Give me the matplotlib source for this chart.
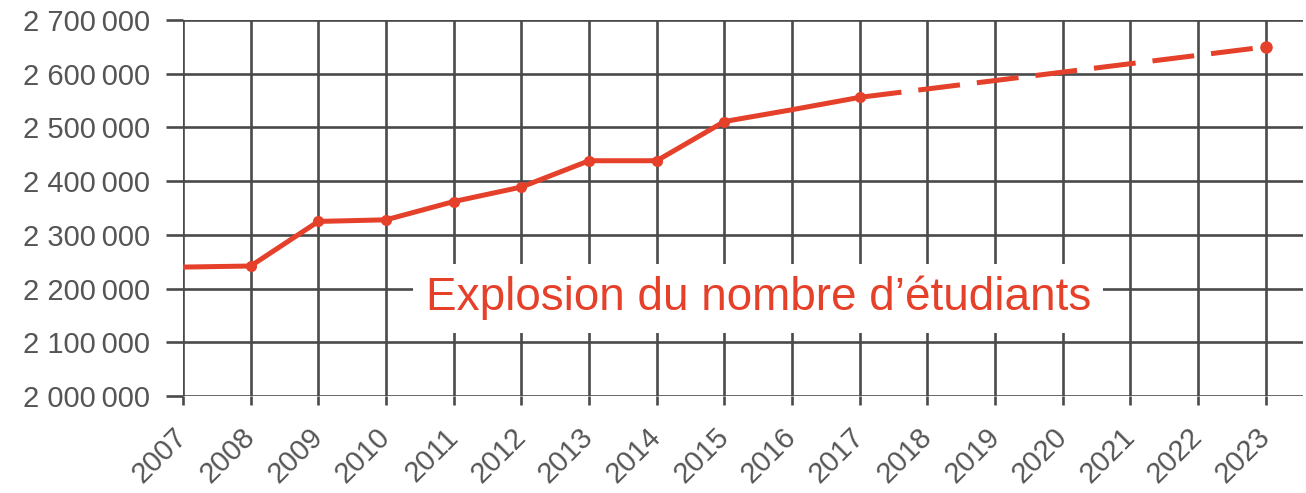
import matplotlib
matplotlib.use("Agg")
import matplotlib.pyplot as plt

# observed values
years = [2007, 2008, 2009, 2010, 2011, 2012, 2013, 2014, 2015, 2016, 2017]
students = [2240000, 2242000, 2325000, 2328000, 2362000, 2389000,
            2438000, 2438000, 2511000, 2533000, 2556000]
marker_years = [2008, 2009, 2010, 2011, 2012, 2013, 2014, 2015, 2017]
# projection
proj_years = [2017, 2023]
proj_students = [2556000, 2650000]

all_years = list(range(2007, 2024))
y_ticks = [2000000, 2100000, 2200000, 2300000, 2400000, 2500000, 2600000, 2700000]
y_labels = ["2 000\u2009000", "2 100\u2009000", "2 200\u2009000", "2 300\u2009000",
            "2 400\u2009000", "2 500\u2009000", "2 600\u2009000", "2 700\u2009000"]
title = "Explosion du nombre d\u2019\u00e9tudiants"

red = "#e5402a"
grid = "#4a4a4a"
label_col = "#555555"
fam = ["Liberation Sans", "DejaVu Sans"]

fig = plt.figure(figsize=(13.06, 4.93), dpi=100)
ax = fig.add_axes([183 / 1306, 97 / 493, 1120 / 1306, 376 / 493])
ax.set_xlim(2007, 2023.55)
ax.set_ylim(2000000, 2700000)

for s in ax.spines.values():
    s.set_visible(False)

ax.set_xticks(all_years)
ax.set_xticklabels([str(y) for y in all_years], rotation=45, ha="right",
                   va="center", rotation_mode="anchor",
                   fontsize=21, color=label_col, family=fam)
ax.set_yticks(y_ticks)
ax.set_yticklabels(y_labels, fontsize=21, color=label_col, family=fam)
ax.tick_params(axis="y", length=12, width=1.9, color=grid, pad=12)
ax.tick_params(axis="x", length=6.5, width=1.9, color=grid, pad=20)
ax.grid(True, color=grid, linewidth=1.9)
ax.set_axisbelow(True)

ax.plot(years, students, color=red, lw=3.6, solid_capstyle="butt", zorder=3)
ax.plot(marker_years, [students[years.index(y)] for y in marker_years],
        "o", color=red, ms=7, zorder=4)
ln, = ax.plot(proj_years, proj_students, color=red, lw=3.6, zorder=3)
ln.set_dashes((8.4, 3.4))
ax.plot(proj_years[-1], proj_students[-1], "o", color=red, ms=8, zorder=4)

ax.text(2015.5, 2182000, title, color=red, fontsize=33, ha="center", va="center",
        family=["Liberation Sans Narrow", "Liberation Sans", "DejaVu Sans"],
        bbox=dict(boxstyle="square,pad=0.27", facecolor="white", edgecolor="none"),
        zorder=5)

fig.savefig("out.png", dpi=100)
